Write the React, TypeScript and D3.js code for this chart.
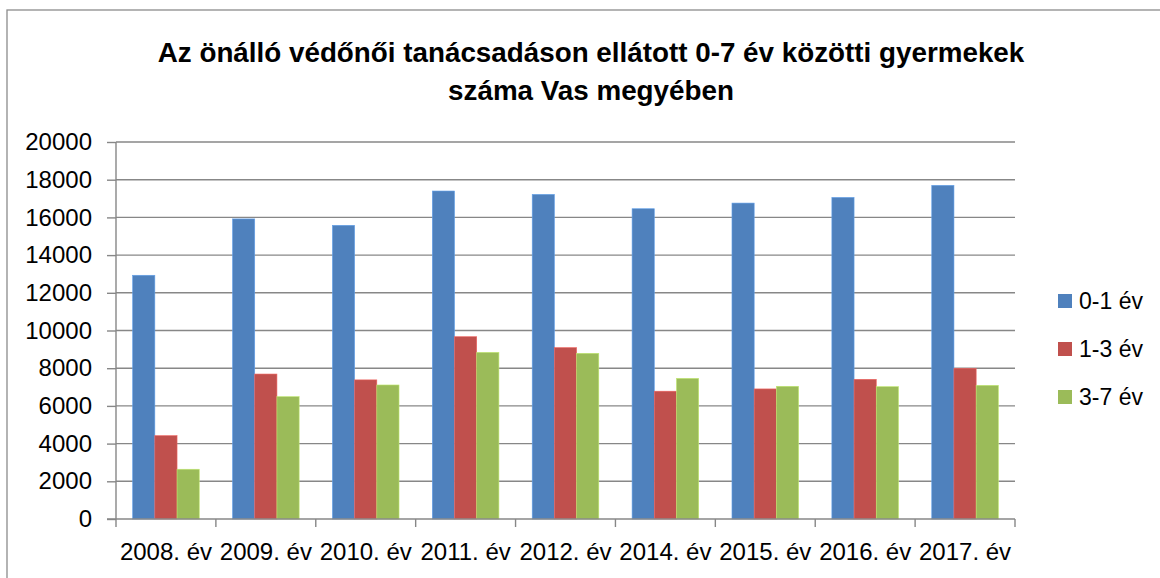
import React, { useEffect, useRef } from "react";
import * as d3 from "d3";

const years = ["2008. év", "2009. év", "2010. év", "2011. év", "2012. év", "2014. év", "2015. év", "2016. év", "2017. év"];
const seriesNames = ["0-1 év", "1-3 év", "3-7 év"];
const age01 = [12930, 15920, 15580, 17400, 17220, 16460, 16760, 17060, 17700];
const age13 = [4420, 7690, 7380, 9670, 9090, 6780, 6900, 7410, 7990];
const age37 = [2640, 6490, 7110, 8840, 8790, 7460, 7040, 7020, 7090];
const yTicks = [0, 2000, 4000, 6000, 8000, 10000, 12000, 14000, 16000, 18000, 20000];
const colors = ["#4F81BD", "#C0504D", "#9BBB59"];
const titleLines = ["Az önálló védőnői tanácsadáson ellátott 0-7 év közötti gyermekek", "száma Vas megyében"];

export default function App() {
  const ref = useRef<SVGSVGElement>(null);

  useEffect(() => {
    const svg = d3.select(ref.current);
    svg.selectAll("*").remove();

    const left = 116, right = 1015, top = 142, bottom = 519;
    const allSeries = [age01, age13, age37];
    const font = "Liberation Sans, Arial, sans-serif";

    const x = d3.scaleBand().domain(years).range([left, right]);
    const x1 = d3.scaleBand().domain(seriesNames).range([0, x.bandwidth()]).paddingOuter(0.75);
    const y = d3.scaleLinear().domain([0, 20000]).range([bottom, top]);

    // chart frame
    svg.append("rect")
      .attr("x", 7).attr("y", 10).attr("width", 1200).attr("height", 600)
      .attr("fill", "white").attr("stroke", "#8c8c8c").attr("stroke-width", 1.3);

    // title
    svg.append("g").selectAll("text")
      .data(titleLines)
      .enter()
      .append("text")
      .attr("x", 591)
      .attr("y", (d, i) => 62 + i * 38)
      .attr("text-anchor", "middle")
      .style("font-family", font)
      .style("font-weight", "bold")
      .style("font-size", "27.8px")
      .text(d => d);

    // gridlines
    svg.append("g").selectAll("line")
      .data(yTicks.slice(1))
      .enter()
      .append("line")
      .attr("x1", left).attr("x2", right)
      .attr("y1", d => y(d)).attr("y2", d => y(d))
      .attr("stroke", "#878787").attr("stroke-width", 1.4);

    // bars
    const groups = svg.append("g").selectAll("g")
      .data(years)
      .enter()
      .append("g")
      .attr("transform", d => `translate(${x(d)},0)`);

    groups.selectAll("rect")
      .data((d, i) => seriesNames.map((s, j) => ({ s, v: allSeries[j][i], c: colors[j] })))
      .enter()
      .append("rect")
      .attr("x", d => x1(d.s)!)
      .attr("y", d => y(d.v))
      .attr("width", x1.bandwidth())
      .attr("height", d => bottom - y(d.v))
      .attr("fill", d => d.c)
      .attr("stroke", d => d3.color(d.c)!.brighter(0.6).toString())
      .attr("stroke-width", 0.6);

    // y axis
    const yAxis = svg.append("g")
      .attr("transform", `translate(${left},0)`)
      .call(d3.axisLeft(y).tickValues(yTicks).tickSize(9).tickPadding(15).tickFormat(d3.format("d")));
    yAxis.selectAll("line").attr("stroke", "#878787").attr("stroke-width", 1.4);
    yAxis.select(".domain").attr("stroke", "#878787").attr("stroke-width", 1.4).attr("d", `M0,${top}V${bottom}`);
    yAxis.selectAll("text")
      .style("font-family", font)
      .style("font-size", "24px")
      .attr("fill", "black");

    // x axis
    const xAxis = svg.append("g")
      .attr("transform", `translate(0,${bottom})`)
      .call(d3.axisBottom(x).tickSize(0).tickPadding(24));
    xAxis.select(".domain").attr("stroke", "#878787").attr("stroke-width", 1.4).attr("d", `M${left - 9},0H${right}`);
    xAxis.selectAll("text")
      .style("font-family", font)
      .style("font-size", "24px")
      .attr("fill", "black");
    xAxis.append("g").selectAll("line")
      .data(years.map(d => x(d)!).concat([right]))
      .enter()
      .append("line")
      .attr("x1", d => d).attr("x2", d => d)
      .attr("y1", 0).attr("y2", 8)
      .attr("stroke", "#878787").attr("stroke-width", 1.4);

    // legend
    const legend = svg.append("g").selectAll("g")
      .data(seriesNames)
      .enter()
      .append("g")
      .attr("transform", (d, i) => `translate(1058,${301 + i * 48})`);
    legend.append("rect")
      .attr("x", 0).attr("y", -7).attr("width", 14).attr("height", 14)
      .attr("fill", (d, i) => colors[i]);
    legend.append("text")
      .attr("x", 21).attr("y", 0).attr("dy", "0.36em")
      .style("font-family", font)
      .style("font-size", "23px")
      .text(d => d);
  }, []);

  return (
    <svg ref={ref} width={1160} height={578} style={{ position: "absolute", left: 0, top: 0 }} />
  );
}
